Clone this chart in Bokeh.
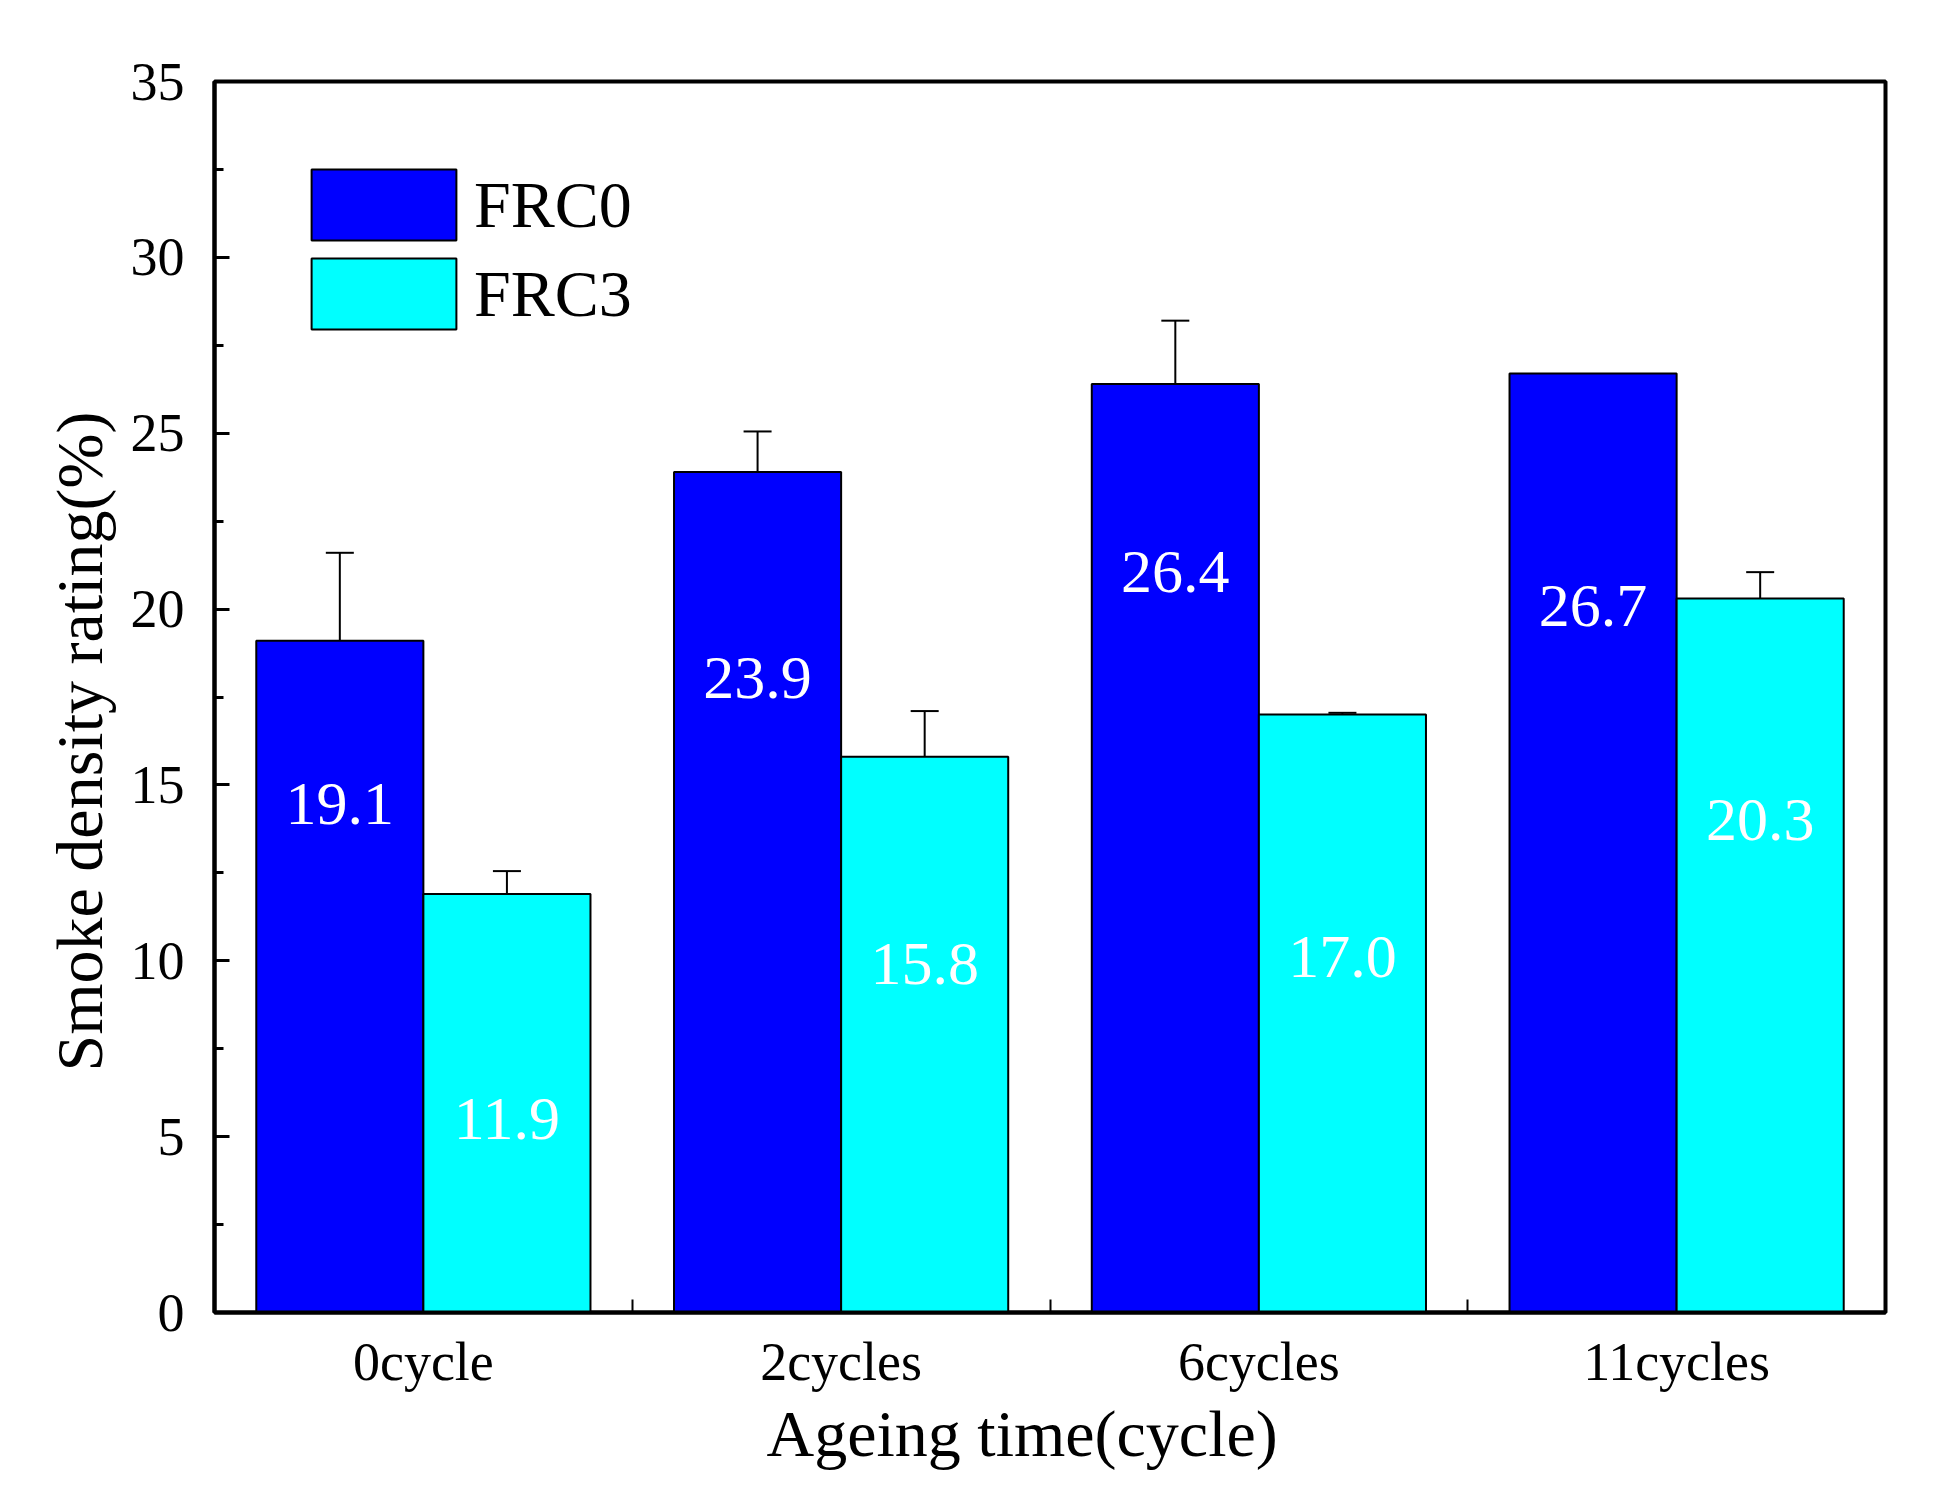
from bokeh.plotting import figure
from bokeh.models import ColumnDataSource, FixedTicker, SingleIntervalTicker, Whisker, TeeHead, Range1d, Title
from bokeh.core.properties import value
from bokeh.embed import file_html
from bokeh.resources import INLINE

# data
cycles = ["0cycle", "2cycles", "6cycles", "11cycles"]
frc0 = [19.1, 23.9, 26.4, 26.7]
frc3 = [11.9, 15.8, 17.0, 20.3]
frc0_err = [2.5, 1.15, 1.8, 0.0]
frc3_err = [0.65, 1.3, 0.05, 0.75]
# where the value labels sit inside the bars (data units)
frc0_lbl_y = [14.45, 18.05, 21.05, 20.1]
frc3_lbl_y = [5.5, 9.9, 10.1, 14.0]

FONT = "Liberation Serif"
C0 = "#0000FF"
C3 = "#00FFFF"
W = 0.4

xs = [i + 1 for i in range(len(cycles))]
x0 = [x - W / 2 for x in xs]
x3 = [x + W / 2 for x in xs]

p = figure(width=1925, height=1477, output_backend="svg", toolbar_location=None,
           x_range=Range1d(0.5, 4.5), y_range=Range1d(0, 35),
           min_border_left=214, min_border_right=40, min_border_top=81, min_border_bottom=165)

src0 = ColumnDataSource(dict(x=x0, top=frc0, ly=frc0_lbl_y, txt=["%.1f" % v for v in frc0]))
src3 = ColumnDataSource(dict(x=x3, top=frc3, ly=frc3_lbl_y, txt=["%.1f" % v for v in frc3]))

p.vbar(x="x", top="top", width=W, source=src0, fill_color=C0, line_color="black",
       line_width=2, legend_label="FRC0")
p.vbar(x="x", top="top", width=W, source=src3, fill_color=C3, line_color="black",
       line_width=2, legend_label="FRC3")

# error bars
ex, eu, el = [], [], []
for xx, v, e in list(zip(x0, frc0, frc0_err)) + list(zip(x3, frc3, frc3_err)):
    if e > 0:
        ex.append(xx); eu.append(v + e); el.append(v - e)
esrc = ColumnDataSource(dict(base=ex, upper=eu, lower=el))
p.add_layout(Whisker(base="base", upper="upper", lower="lower", source=esrc,
                     dimension="height", line_color="black", line_width=2,
                     upper_head=TeeHead(size=28, line_width=2, line_color="black"),
                     lower_head=TeeHead(size=28, line_width=2, line_color="black")))

# value labels
for s in (src0, src3):
    p.text(x="x", y="ly", text="txt", source=s, text_color="white",
           text_font=value(FONT), text_font_size="62px",
           text_align="center", text_baseline="middle")

# axes
p.xgrid.visible = False
p.ygrid.visible = False
p.outline_line_color = "black"
p.outline_line_width = 4
p.background_fill_color = "white"

xa = p.xaxis[0]
xa.ticker = FixedTicker(ticks=xs, minor_ticks=[1.5, 2.5, 3.5])
xa.major_label_overrides = {x: c for x, c in zip(xs, cycles)}
xa.major_tick_line_color = None
xa.minor_tick_in = 13
xa.minor_tick_out = 0
xa.minor_tick_line_width = 2
xa.major_label_standoff = 13

ya = p.yaxis[0]
ya.ticker = SingleIntervalTicker(interval=5, num_minor_ticks=2)
ya.major_tick_in = 15
ya.major_tick_out = 0
ya.minor_tick_in = 9
ya.minor_tick_out = 0
ya.major_tick_line_width = 3
ya.minor_tick_line_width = 3
ya.major_label_standoff = 30

for ax in (xa, ya):
    ax.axis_line_width = 4
    ax.axis_line_color = "black"
    ax.major_label_text_font = FONT
    ax.major_label_text_font_size = "54px"
    ax.major_label_text_color = "black"

# axis titles (the originals sit a bit off-centre)
p.add_layout(Title(text="Ageing time(cycle)", align="left", offset=552, standoff=0,
                   text_font=FONT, text_font_size="66px", text_font_style="normal",
                   text_color="black"), "below")
p.add_layout(Title(text="Smoke density rating(%)", align="left", offset=241, standoff=24,
                   text_font=FONT, text_font_size="66px", text_font_style="normal",
                   text_color="black"), "left")

lg = p.legend[0]
lg.location = "top_left"
lg.margin = 79
lg.padding = 4
lg.glyph_width = 181
lg.glyph_height = 89
lg.spacing = 0
lg.label_standoff = 0
lg.label_text_font = FONT
lg.label_text_font_size = "66px"
lg.label_text_color = "black"
lg.border_line_color = None
lg.background_fill_alpha = 0

open("out.html", "w").write(file_html(p, INLINE))
